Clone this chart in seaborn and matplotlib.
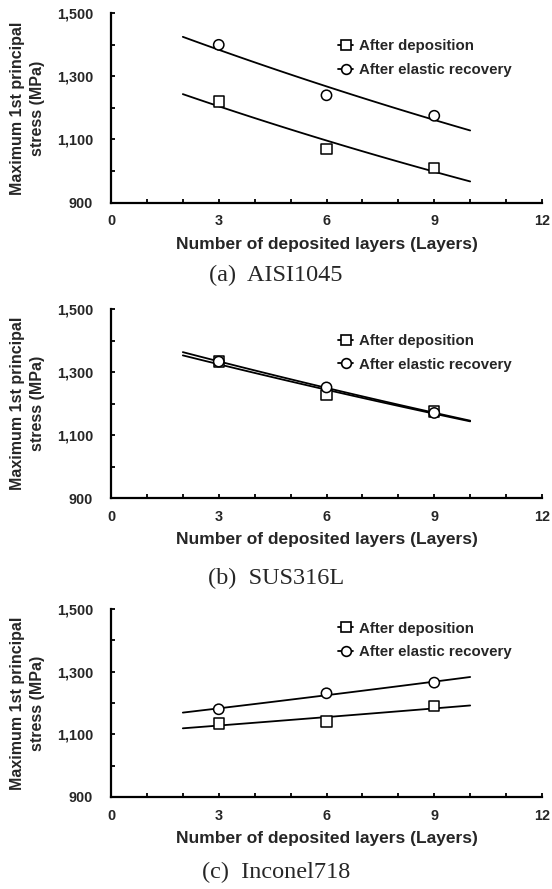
import numpy as np
import pandas as pd
import matplotlib
matplotlib.use("Agg")
import matplotlib.pyplot as plt
import seaborn as sns
from matplotlib.ticker import FixedLocator, MultipleLocator, FuncFormatter

sns.set_theme(style="white")
plt.rcParams['font.family'] = ['Liberation Sans', 'DejaVu Sans']

layers = [3, 6, 9]
materials = ["(a)  AISI1045", "(b)  SUS316L", "(c)  Inconel718"]
dep_aisi = [1220, 1070, 1010]
rec_aisi = [1400, 1240, 1175]
dep_sus = [1333, 1228, 1175]
rec_sus = [1333, 1251, 1170]
dep_inc = [1135, 1141, 1190]
rec_inc = [1180, 1231, 1265]
series_labels = ["After deposition", "After elastic recovery"]
panels = [(dep_aisi, rec_aisi), (dep_sus, rec_sus), (dep_inc, rec_inc)]
y_major = [900, 1100, 1300, 1500]

fig = plt.figure(figsize=(5.52, 8.89), dpi=100)
W, H = 552, 889
left, right = 111 / W, 542 / W
tops = [13.3, 309, 609]
bots = [202.5, 498, 797]
caption_y = [275, 578, 872]
legend_top = [0.863, 0.869, 0.933]

fmt = FuncFormatter(lambda v, p: f"{int(v):,}")

for i, (dep, rec) in enumerate(panels):
    ax = fig.add_axes([left, 1 - bots[i] / H, right - left, (bots[i] - tops[i]) / H])
    df = pd.DataFrame({"x": layers * 2, "y": list(dep) + list(rec),
                       "s": [series_labels[0]] * 3 + [series_labels[1]] * 3})
    xs = np.linspace(2, 10, 50)
    for lab, marker in zip(series_labels, ["s", "o"]):
        sub = df[df.s == lab]
        coef = np.polyfit(sub.x, np.log(sub.y), 1)
        ys = np.exp(np.polyval(coef, xs))
        sns.lineplot(x=xs, y=ys, ax=ax, color="black", lw=1.3)
        ax.plot([], [], color="black", marker=marker, mfc="white", mec="black",
                ms=7, lw=1.3, mew=1.2, label=lab)
    sns.scatterplot(data=df, x="x", y="y", style="s",
                    markers={series_labels[0]: "s", series_labels[1]: "o"},
                    s=55, facecolor="white", edgecolor="black", linewidth=1.1,
                    ax=ax, legend=False, zorder=3)
    ax.set_xlim(0, 12)
    ax.set_ylim(900, 1500)
    ax.xaxis.set_major_locator(MultipleLocator(3))
    ax.xaxis.set_minor_locator(MultipleLocator(1))
    ax.yaxis.set_major_locator(FixedLocator(y_major))
    ax.yaxis.set_minor_locator(MultipleLocator(100))
    ax.yaxis.set_major_formatter(fmt)
    for s in ["top", "right"]:
        ax.spines[s].set_visible(False)
    for s in ["left", "bottom"]:
        ax.spines[s].set_color("black")
        ax.spines[s].set_linewidth(1.6)
        ax.spines[s].set_capstyle("projecting")
    ax.tick_params(which="both", direction="in", color="black", width=1.3,
                   bottom=True, left=True, length=3.2)
    ax.tick_params(axis="x", which="major", labelsize=10.4, pad=8.5)
    ax.tick_params(axis="y", which="major", labelsize=10.4, pad=13)
    for t in ax.get_xticklabels() + ax.get_yticklabels():
        t.set_fontweight("bold")
    ax.set_xlabel("Number of deposited layers (Layers)", fontsize=12.5, fontweight="bold", labelpad=6)
    ax.set_ylabel("Maximum 1st principal\nstress (MPa)", fontsize=11.5, fontweight="bold", labelpad=8.5,
                  linespacing=1.4)
    ax.legend(loc="upper left", bbox_to_anchor=(0.527, legend_top[i]), frameon=False,
              borderaxespad=0, borderpad=0,
              handlelength=1.0, handletextpad=0.37, labelspacing=0.65,
              prop={"weight": "bold", "size": 10.8})
    fig.text(276 / W, 1 - caption_y[i] / H, materials[i], ha="center", va="center",
             fontsize=17.5, family=["Liberation Serif", "DejaVu Serif"])

fig.savefig("out.png", dpi=100)
